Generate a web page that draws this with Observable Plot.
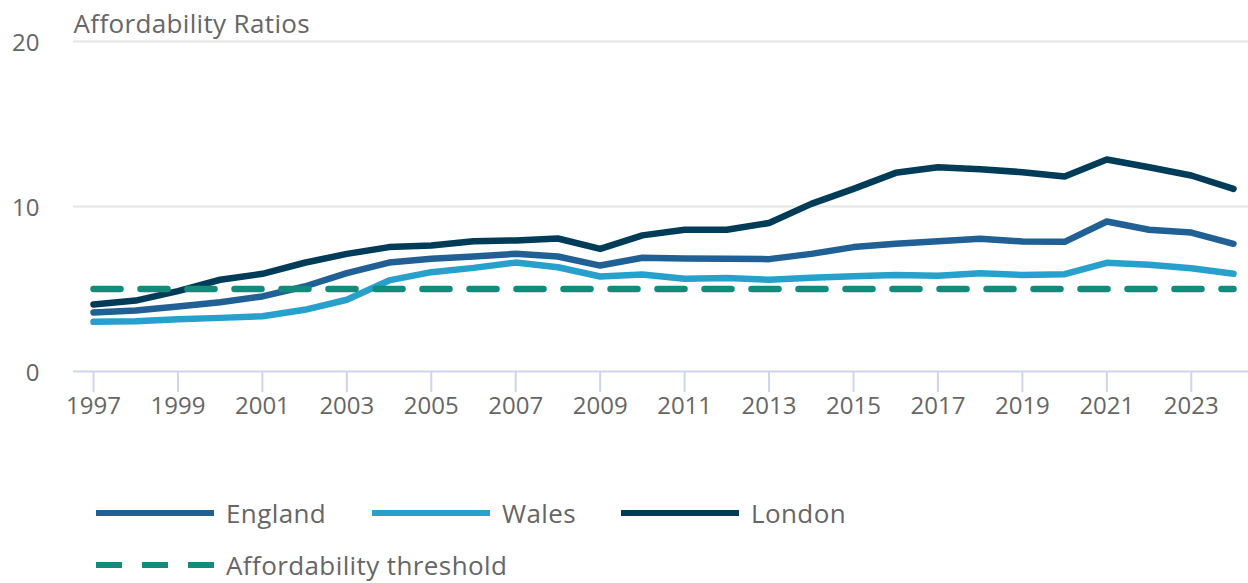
<!DOCTYPE html>
<html>
<head>
<meta charset="utf-8">
<script src="https://cdn.jsdelivr.net/npm/d3@7"></script>
<script src="https://cdn.jsdelivr.net/npm/@observablehq/plot@0.6"></script>
<style>
  html, body { margin: 0; padding: 0; background: #fff; }
  body { width: 1248px; height: 583px; overflow: hidden; font-family: "Open Sans", sans-serif; }
  #legend { position: relative; width: 1248px; height: 143px; }
  .item { position: absolute; display: flex; align-items: center; height: 26px; }
  .item span { font-size: 26px; letter-spacing: 0.4px; color: #666; margin-left: 12px; line-height: 26px; }
</style>
</head>
<body>
<div id="chart"></div>
<div id="legend"></div>
<script>
const title = "Affordability Ratios";
const years = [1997,1998,1999,2000,2001,2002,2003,2004,2005,2006,2007,2008,2009,2010,2011,2012,2013,2014,2015,2016,2017,2018,2019,2020,2021,2022,2023,2024];
const england = [3.58,3.70,3.94,4.20,4.55,5.15,5.96,6.60,6.83,6.97,7.13,6.97,6.42,6.89,6.85,6.83,6.81,7.13,7.54,7.74,7.90,8.04,7.88,7.86,9.09,8.59,8.42,7.74];
const wales   = [3.01,3.05,3.17,3.25,3.35,3.74,4.35,5.52,6.02,6.28,6.60,6.32,5.76,5.88,5.62,5.66,5.56,5.68,5.78,5.85,5.80,5.96,5.85,5.90,6.59,6.47,6.26,5.92];
const london  = [4.06,4.30,4.87,5.56,5.92,6.59,7.13,7.54,7.64,7.90,7.94,8.06,7.43,8.25,8.59,8.59,9.00,10.16,11.07,12.04,12.38,12.26,12.08,11.82,12.85,12.38,11.88,11.07];
const thresholdValue = 5;
const xTicks = [1997,1999,2001,2003,2005,2007,2009,2011,2013,2015,2017,2019,2021,2023];
const yTicks = [0,10,20];
const seriesNames = ["England","Wales","London","Affordability threshold"];
const seriesColors = ["#206095","#27a0cc","#003c57","#118c7b"];

const rows = (vals) => years.map((y, i) => ({year: y, value: vals[i]}));
const threshRows = years.map(y => ({year: y, value: thresholdValue}));

const chart = Plot.plot({
  width: 1248,
  height: 440,
  marginLeft: 73,
  marginRight: 0,
  marginTop: 41,
  marginBottom: 69,
  style: {fontFamily: "'Open Sans', sans-serif", fontSize: "24px", background: "white", overflow: "visible"},
  x: {domain: [1997, 2024], range: [93, 1233]},
  y: {domain: [0, 20]},
  marks: [
    Plot.ruleY([10, 20], {stroke: "#e6e6e6", strokeWidth: 2}),
    Plot.ruleY([0], {stroke: "#ccd6eb", strokeWidth: 2}),
    Plot.axisY({ticks: yTicks, tickSize: 0, tickPadding: 34, dy: 2, fill: "#666", label: null}),
    Plot.axisX({ticks: xTicks, tickSize: 21, tickPadding: 4, stroke: "#ccd6eb", strokeWidth: 2, fill: "#666", tickFormat: d => String(d), label: null}),
    Plot.line(rows(england), {x: "year", y: "value", stroke: seriesColors[0], strokeWidth: 6.5}),
    Plot.line(rows(wales), {x: "year", y: "value", stroke: seriesColors[1], strokeWidth: 6.5}),
    Plot.line(rows(london), {x: "year", y: "value", stroke: seriesColors[2], strokeWidth: 6.5}),
    Plot.line(threshRows, {x: "year", y: "value", stroke: seriesColors[3], strokeWidth: 6.5, strokeDasharray: "27,20"}),
    Plot.text([title], {frameAnchor: "top-left", textAnchor: "start", lineAnchor: "top", dy: -26.5, fill: "#666", fontSize: 26})
  ]
});
chart.querySelectorAll("text").forEach(t => { if (t.textContent === title) t.setAttribute("letter-spacing", "0.35"); });
document.getElementById("chart").appendChild(chart);

const legend = document.getElementById("legend");
const positions = [[96, 60], [372, 60], [621, 60], [96, 112]];
seriesNames.forEach((name, i) => {
  const div = document.createElement("div");
  div.className = "item";
  div.style.left = positions[i][0] + "px";
  div.style.top = positions[i][1] + "px";
  const dash = i === 3 ? ' stroke-dasharray="26,20"' : '';
  div.innerHTML = `<svg width="118" height="8"><line x1="0" x2="118" y1="4" y2="4" stroke="${seriesColors[i]}" stroke-width="6"${dash}/></svg><span>${name}</span>`;
  legend.appendChild(div);
});
</script>
</body>
</html>
